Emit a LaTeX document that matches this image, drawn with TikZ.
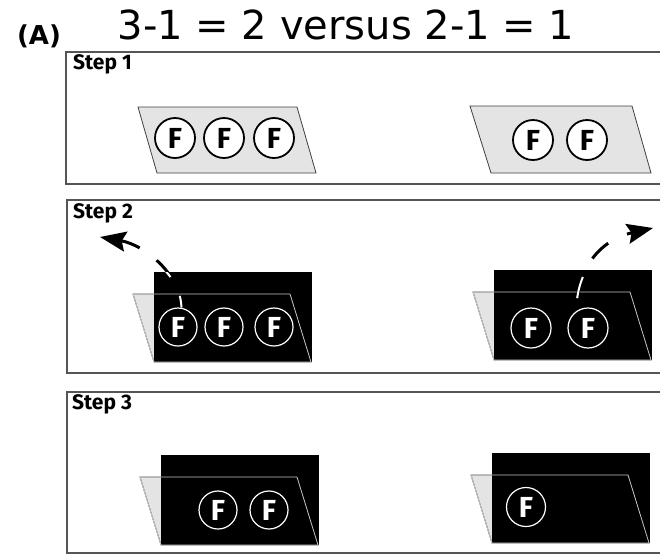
\documentclass[tikz,border=0pt]{standalone}
\usepackage{fontspec}
\usetikzlibrary{arrows.meta}
\newfontfamily\titlefont{DejaVu Sans}
\newfontfamily\labfont{Fira Sans}
\definecolor{panelgray}{HTML}{555555}
\definecolor{traygray}{HTML}{E4E4E4}
\tikzset{
  panel/.style={draw=panelgray, line width=1.3pt},
  tray/.style={fill=traygray, draw=black!75, line width=0.8pt},
  trayline/.style={draw=black!22, line width=0.8pt},
  cover/.style={fill=black},
  fw/.style={circle, draw=black, fill=white, line width=1.8pt, minimum size=40pt, inner sep=0pt,
    font=\labfont\bfseries\fontsize{29}{29}\selectfont},
  fb/.style={circle, draw=white, fill=black, text=white, line width=1.2pt, minimum size=38pt, inner sep=0pt,
    font=\labfont\bfseries\fontsize{29}{29}\selectfont},
  steplabel/.style={anchor=base west, inner sep=0pt, font=\labfont\bfseries\fontsize{21}{21}\selectfont},
  move/.style={line width=3pt, dash pattern=on 22pt off 21pt,
    -{Stealth[length=26pt,width=20pt,inset=4pt]}},
  moveinner/.style={white, line width=2pt, dash pattern=on 22pt off 21pt},
  folder/.pic={
    \path[tray] (-21,22) -- (136,22) -- (157,90) -- (0,90) -- cycle;
    \path[cover] (0,0) rectangle (158,90);
    \path[trayline] (-21,22) -- (136,22) -- (157,90) -- (0,90) -- cycle;
  }
}
\begin{document}
\begin{tikzpicture}[x=1pt,y=-1pt]
\useasboundingbox (0,0) rectangle (660,555);
\fill[white] (0,0) rectangle (660,555);

% headings
\node[anchor=base, inner sep=0pt, font=\titlefont\bfseries\fontsize{26}{26}\selectfont] (lab) at (39,44) {(A)};
\node[anchor=base, inner sep=0pt, font=\titlefont\fontsize{40}{40}\selectfont] (title) at (346,39) {3-1 = 2 versus 2-1 = 1};

% panels
\draw[panel] (66,52) rectangle (675,184);
\draw[panel] (67,200) rectangle (675,373);
\draw[panel] (67,392) rectangle (675,553);
\node[steplabel] (st1) at (73,69) {Step 1};
\node[steplabel] (st2) at (73,218) {Step 2};
\node[steplabel] (st3) at (72,409) {Step 3};

% Step 1
\path[tray] (138,107) -- (297,107) -- (316,173) -- (157,173) -- cycle;
\path[tray] (470,106) -- (632,106) -- (651,173) -- (491,173) -- cycle;
\node[fw] (a1) at (175,138) {F};
\node[fw] (a2) at (224,138) {F};
\node[fw] (a3) at (274,138) {F};
\node[fw] (b1) at (533,140) {F};
\node[fw] (b2) at (587,140) {F};

% Step 2
\pic at (154,272) {folder};
\pic at (494,270) {folder};
\node[fb] (c1) at (178,327) {F};
\node[fb] (c2) at (224,327) {F};
\node[fb] (c3) at (274,327) {F};
\node[fb, minimum size=40pt] (d1) at (531,328) {F};
\node[fb, minimum size=40pt] (d2) at (588,328) {F};
\coordinate (tipL) at (100,237);
\coordinate (tipR) at (653,228);
\draw[move, dash phase=10pt] (c1.80) .. controls (181,275) and (145,245) .. (tipL);
\draw[move, dash phase=30pt] (d2.125) .. controls (577,268) and (600,240) .. (tipR);
\begin{scope}
  \clip (154,272) rectangle (312,362);
  \draw[moveinner, dash phase=10pt] (c1.80) .. controls (181,275) and (145,245) .. (tipL);
\end{scope}
\begin{scope}
  \clip (494,270) rectangle (652,360);
  \draw[moveinner, dash phase=30pt] (d2.125) .. controls (577,268) and (600,240) .. (tipR);
\end{scope}

% Step 3
\pic at (161,455) {folder};
\pic at (492,453) {folder};
\node[fb] (e1) at (218,510) {F};
\node[fb] (e2) at (269,510) {F};
\node[fb, minimum size=39pt] (f1) at (526,507) {F};
\end{tikzpicture}
\end{document}
